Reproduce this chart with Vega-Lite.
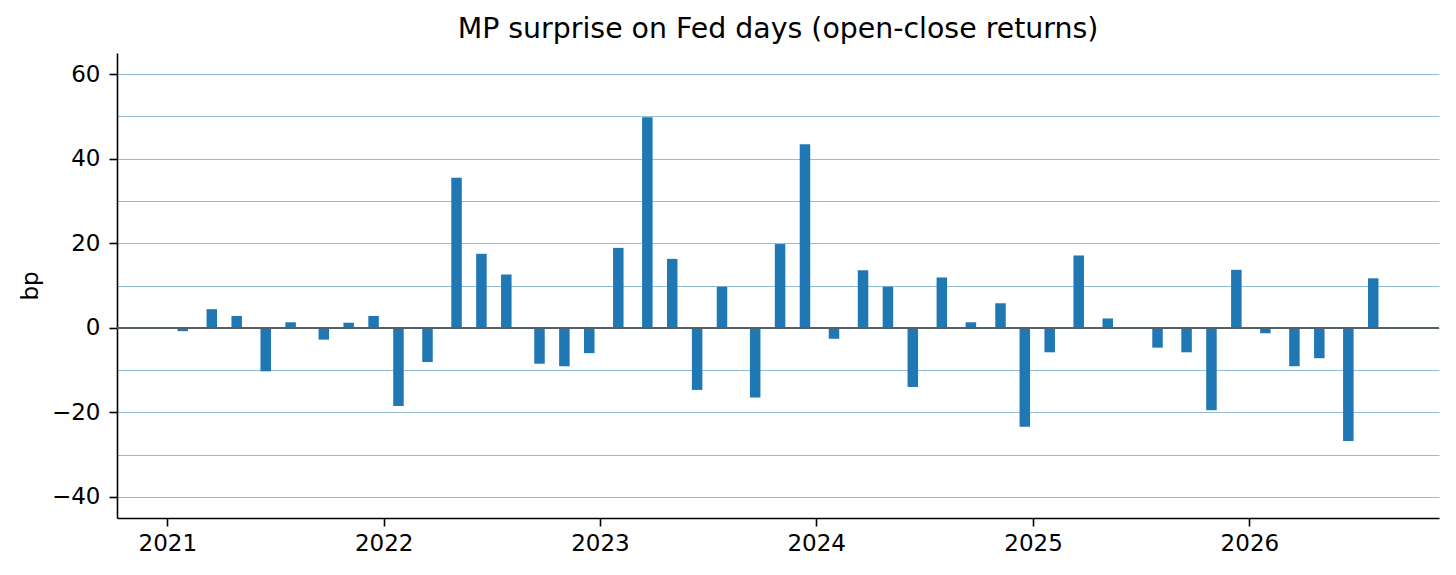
{
  "$schema": "https://vega.github.io/schema/vega-lite/v6.json",
  "width": 1322,
  "height": 465,
  "autosize": {"type": "none"},
  "padding": {"left": 117, "top": 53, "right": 17, "bottom": 57},
  "title": {
    "text": "MP surprise on Fed days (open-close returns)",
    "font": "DejaVu Sans",
    "fontSize": 28.4,
    "fontWeight": "normal",
    "color": "black",
    "anchor": "middle",
    "frame": "group",
    "baseline": "alphabetic",
    "offset": 14,
    "dy": 27
  },
  "data": {
    "values": [
      {"date": "2021-01-27", "bp": -0.8},
      {"date": "2021-03-17", "bp": 4.4},
      {"date": "2021-04-28", "bp": 2.8},
      {"date": "2021-06-16", "bp": -10.3},
      {"date": "2021-07-28", "bp": 1.3},
      {"date": "2021-09-22", "bp": -2.8},
      {"date": "2021-11-03", "bp": 1.2},
      {"date": "2021-12-15", "bp": 2.8},
      {"date": "2022-01-26", "bp": -18.5},
      {"date": "2022-03-16", "bp": -8.1},
      {"date": "2022-05-04", "bp": 35.5},
      {"date": "2022-06-15", "bp": 17.5},
      {"date": "2022-07-27", "bp": 12.6},
      {"date": "2022-09-21", "bp": -8.5},
      {"date": "2022-11-02", "bp": -9.1},
      {"date": "2022-12-14", "bp": -6.0},
      {"date": "2023-02-01", "bp": 18.9},
      {"date": "2023-03-22", "bp": 49.8},
      {"date": "2023-05-03", "bp": 16.3},
      {"date": "2023-06-14", "bp": -14.7},
      {"date": "2023-07-26", "bp": 9.7},
      {"date": "2023-09-20", "bp": -16.5},
      {"date": "2023-11-01", "bp": 19.8},
      {"date": "2023-12-13", "bp": 43.4},
      {"date": "2024-01-31", "bp": -2.6},
      {"date": "2024-03-20", "bp": 13.6},
      {"date": "2024-05-01", "bp": 9.7},
      {"date": "2024-06-12", "bp": -14.0},
      {"date": "2024-07-31", "bp": 11.9},
      {"date": "2024-09-18", "bp": 1.3},
      {"date": "2024-11-07", "bp": 5.8},
      {"date": "2024-12-18", "bp": -23.4},
      {"date": "2025-01-29", "bp": -5.8},
      {"date": "2025-03-19", "bp": 17.1},
      {"date": "2025-05-07", "bp": 2.2},
      {"date": "2025-07-30", "bp": -4.7},
      {"date": "2025-09-17", "bp": -5.8},
      {"date": "2025-10-29", "bp": -19.5},
      {"date": "2025-12-10", "bp": 13.7},
      {"date": "2026-01-28", "bp": -1.3},
      {"date": "2026-03-18", "bp": -9.1},
      {"date": "2026-04-29", "bp": -7.2},
      {"date": "2026-06-17", "bp": -26.8},
      {"date": "2026-07-29", "bp": 11.7}
    ]
  },
  "layer": [
    {
      "mark": {"type": "bar", "width": 10.5, "color": "#1f77b4"},
      "encoding": {
        "x": {
          "field": "date",
          "type": "temporal",
          "scale": {
            "domain": [1602115200000, 1794873600000],
            "padding": 0,
            "nice": false
          },
          "axis": {
            "title": null,
            "format": "%Y",
            "tickCount": {"interval": "year", "step": 1},
            "grid": false,
            "labelFontSize": 23,
            "labelColor": "black",
            "labelPadding": 6,
            "labelFlush": false,
            "labelOverlap": false,
            "tickColor": "black",
            "tickSize": 8,
            "tickWidth": 1.6,
            "domainColor": "black",
            "domainWidth": 1.6
          }
        },
        "y": {
          "field": "bp",
          "type": "quantitative",
          "scale": {"domain": [-45, 65], "nice": false, "zero": false},
          "axis": {
            "title": "bp",
            "titleFontSize": 23,
            "titleFontWeight": "normal",
            "titleColor": "black",
            "titlePadding": 9,
            "values": [-40, -30, -20, -10, 0, 10, 20, 30, 40, 50, 60],
            "labelExpr": "datum.value % 20 === 0 ? datum.label : ''",
            "labelFontSize": 23,
            "labelColor": "black",
            "labelPadding": 9,
            "tickColor": "black",
            "tickSize": 8,
            "tickWidth": 1.6,
            "tickOpacity": {"condition": {"test": "datum.value % 20 === 0", "value": 1}, "value": 0},
            "domainColor": "black",
            "domainWidth": 1.6,
            "grid": true,
            "gridColor": "#94bcd6",
            "gridWidth": 1
          }
        }
      }
    },
    {
      "mark": {"type": "rule", "color": "#56606a", "strokeWidth": 1.2},
      "encoding": {"y": {"datum": 0}}
    }
  ],
  "config": {
    "view": {"stroke": null},
    "font": "DejaVu Sans"
  }
}
